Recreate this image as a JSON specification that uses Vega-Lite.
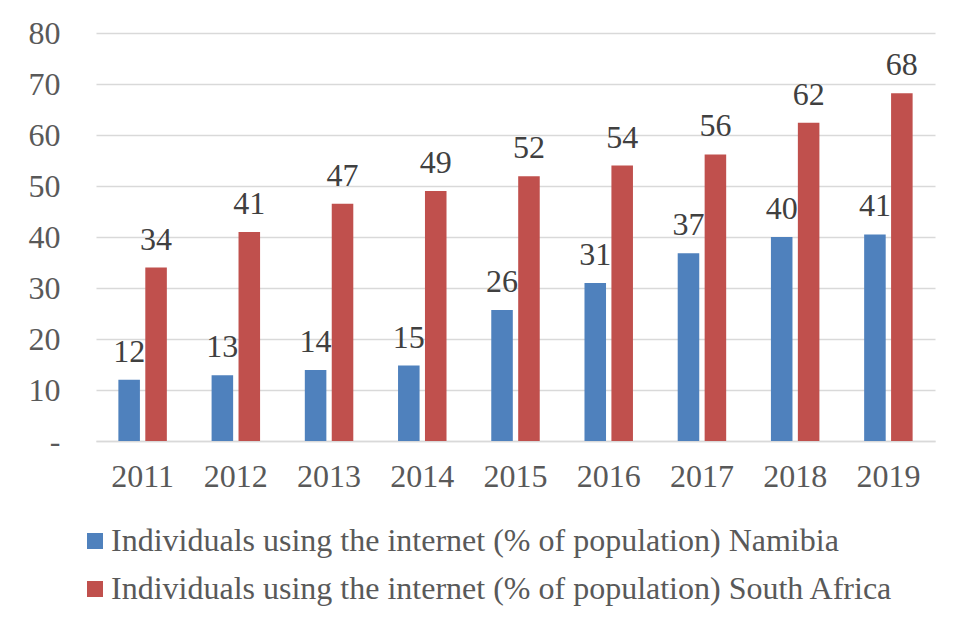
{
  "$schema": "https://vega.github.io/schema/vega-lite/v6.json",
  "width": 839,
  "height": 408,
  "autosize": {"type": "none"},
  "padding": {"left": 96, "top": 33, "right": 30, "bottom": 187},
  "background": "white",
  "config": {
    "font": "Liberation Serif",
    "view": {"stroke": null}
  },
  "data": {
    "values": [
      {"year": "2011", "series": "Individuals using the internet (% of population) Namibia", "value": 12.0},
      {"year": "2012", "series": "Individuals using the internet (% of population) Namibia", "value": 12.9},
      {"year": "2013", "series": "Individuals using the internet (% of population) Namibia", "value": 13.9},
      {"year": "2014", "series": "Individuals using the internet (% of population) Namibia", "value": 14.8},
      {"year": "2015", "series": "Individuals using the internet (% of population) Namibia", "value": 25.7},
      {"year": "2016", "series": "Individuals using the internet (% of population) Namibia", "value": 31.0},
      {"year": "2017", "series": "Individuals using the internet (% of population) Namibia", "value": 36.8},
      {"year": "2018", "series": "Individuals using the internet (% of population) Namibia", "value": 40.0},
      {"year": "2019", "series": "Individuals using the internet (% of population) Namibia", "value": 40.5},
      {"year": "2011", "series": "Individuals using the internet (% of population) South Africa", "value": 34.0},
      {"year": "2012", "series": "Individuals using the internet (% of population) South Africa", "value": 41.0},
      {"year": "2013", "series": "Individuals using the internet (% of population) South Africa", "value": 46.5},
      {"year": "2014", "series": "Individuals using the internet (% of population) South Africa", "value": 49.0},
      {"year": "2015", "series": "Individuals using the internet (% of population) South Africa", "value": 51.9},
      {"year": "2016", "series": "Individuals using the internet (% of population) South Africa", "value": 54.0},
      {"year": "2017", "series": "Individuals using the internet (% of population) South Africa", "value": 56.2},
      {"year": "2018", "series": "Individuals using the internet (% of population) South Africa", "value": 62.4},
      {"year": "2019", "series": "Individuals using the internet (% of population) South Africa", "value": 68.2}
    ]
  },
  "encoding": {
    "x": {
      "field": "year",
      "type": "nominal",
      "title": null,
      "scale": {"paddingInner": 0.48, "paddingOuter": 0.24},
      "axis": {
        "labelAngle": 0,
        "labelFontSize": 32,
        "labelColor": "#595959",
        "labelPadding": 20,
        "ticks": false,
        "domainColor": "#d9d9d9",
        "domainWidth": 1.5,
        "grid": false
      }
    },
    "xOffset": {
      "field": "series",
      "type": "nominal",
      "scale": {"paddingInner": 0.2, "paddingOuter": 0}
    },
    "y": {
      "field": "value",
      "type": "quantitative",
      "title": null,
      "scale": {"domain": [0, 80], "nice": false},
      "axis": {
        "values": [0, 10, 20, 30, 40, 50, 60, 70, 80],
        "labelExpr": "datum.value === 0 ? '-\u00a0\u00a0\u00a0' : datum.label",
        "labelFontSize": 32,
        "labelColor": "#595959",
        "labelPadding": 36,
        "ticks": false,
        "domain": false,
        "gridColor": "#d9d9d9",
        "gridWidth": 1.5
      }
    }
  },
  "layer": [
    {
      "mark": {"type": "bar"},
      "encoding": {
        "color": {
          "field": "series",
          "type": "nominal",
          "scale": {
            "domain": [
              "Individuals using the internet (% of population) Namibia",
              "Individuals using the internet (% of population) South Africa"
            ],
            "range": ["#4f81bd", "#c0504d"]
          },
          "legend": {
            "title": null,
            "orient": "none",
            "legendX": -17,
            "legendY": 492,
            "direction": "vertical",
            "symbolType": "square",
            "symbolSize": 256,
            "symbolStrokeWidth": 0,
            "labelFontSize": 32,
            "labelColor": "#595959",
            "labelLimit": 1000,
            "labelOffset": 0,
            "rowPadding": 16
          }
        }
      }
    },
    {
      "mark": {"type": "text", "fontSize": 32, "color": "#404040", "baseline": "alphabetic", "dy": -18},
      "encoding": {
        "text": {"field": "value", "type": "quantitative", "format": ".0f"}
      }
    }
  ]
}
